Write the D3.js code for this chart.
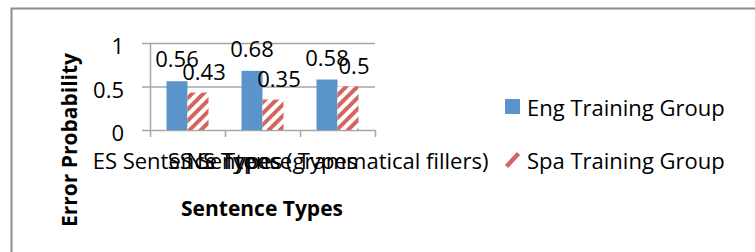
<!DOCTYPE html>
<html>
<head>
<meta charset="utf-8">
<script src="https://cdn.jsdelivr.net/npm/d3@7"></script>
<style>
  body { margin: 0; background: #fff; }
  svg { font-family: "Open Sans", Lato, sans-serif; }
</style>
</head>
<body>
<svg id="chart"></svg>
<script>
const categories = ["ES Sentence Types", "SS Sentence Types", "NS Types (grammatical fillers)"];
const seriesNames = ["Eng Training Group", "Spa Training Group"];
const engValues = [0.56, 0.68, 0.58];
const spaValues = [0.43, 0.35, 0.5];
const yTicks = [0, 0.5, 1];

const width = 755, height = 252;
const fs = 22;
const svg = d3.select("#chart").attr("width", width).attr("height", height);

// hatch pattern for the second series
const defs = svg.append("defs");
const pat = defs.append("pattern")
  .attr("id", "hatch")
  .attr("patternUnits", "userSpaceOnUse")
  .attr("width", 8).attr("height", 8)
  .attr("patternTransform", "rotate(45)");
pat.append("rect").attr("width", 8).attr("height", 8).attr("fill", "#fff");
pat.append("rect").attr("width", 4).attr("height", 8).attr("fill", "#d4665f");

// outer chart border (extends past the window)
svg.append("path")
  .attr("d", `M11.5,${height + 5}V8.5H${width + 5}`)
  .attr("fill", "none")
  .attr("stroke", "#8c8c8c")
  .attr("stroke-width", 2);

const plot = { left: 150, right: 375, top: 43, bottom: 130 };

const x = d3.scaleBand().domain(categories).range([plot.left, plot.right]);
const y = d3.scaleLinear().domain([0, 1]).range([plot.bottom, plot.top]);

const barW = 21;

// gridlines
svg.append("g")
  .selectAll("line")
  .data(yTicks)
  .join("line")
  .attr("x1", plot.left - 8)
  .attr("x2", plot.right)
  .attr("y1", d => y(d) + 0.5)
  .attr("y2", d => y(d) + 0.5)
  .attr("stroke", "#a6a6a6")
  .attr("stroke-width", 1.5);

// y axis line
svg.append("line")
  .attr("x1", plot.left + 0.5).attr("x2", plot.left + 0.5)
  .attr("y1", plot.top).attr("y2", plot.bottom)
  .attr("stroke", "#a6a6a6").attr("stroke-width", 1.5);

// x axis tick marks at category boundaries
const bounds = categories.map(c => x(c)).concat([plot.right]);
svg.append("g")
  .selectAll("line")
  .data(bounds)
  .join("line")
  .attr("x1", d => d + 0.5).attr("x2", d => d + 0.5)
  .attr("y1", plot.bottom).attr("y2", plot.bottom + 7)
  .attr("stroke", "#a6a6a6").attr("stroke-width", 1.5);

// y tick labels
svg.append("g")
  .selectAll("text")
  .data(yTicks)
  .join("text")
  .attr("x", plot.left - 26)
  .attr("y", d => y(d) + 11)
  .attr("text-anchor", "end")
  .attr("font-size", fs)
  .attr("fill", "#000")
  .text(d => d);

// bars
const center = c => x(c) + x.bandwidth() / 2;

svg.append("g")
  .selectAll("rect")
  .data(categories)
  .join("rect")
  .attr("x", c => center(c) - barW)
  .attr("y", (c, i) => y(engValues[i]))
  .attr("width", barW)
  .attr("height", (c, i) => y(0) - y(engValues[i]))
  .attr("fill", "#5b93cb");

svg.append("g")
  .selectAll("rect")
  .data(categories)
  .join("rect")
  .attr("x", c => center(c))
  .attr("y", (c, i) => y(spaValues[i]))
  .attr("width", barW)
  .attr("height", (c, i) => y(0) - y(spaValues[i]))
  .attr("fill", "url(#hatch)");

// data labels
svg.append("g")
  .selectAll("text")
  .data(categories)
  .join("text")
  .attr("x", c => center(c) - barW / 2)
  .attr("y", (c, i) => y(engValues[i]) - 14)
  .attr("text-anchor", "middle")
  .attr("font-size", fs)
  .text((c, i) => engValues[i]);

svg.append("g")
  .selectAll("text")
  .data(categories)
  .join("text")
  .attr("x", c => center(c) + barW / 2 + 6)
  .attr("y", (c, i) => y(spaValues[i]) - 13)
  .attr("text-anchor", "middle")
  .attr("font-size", fs)
  .text((c, i) => spaValues[i]);

// category labels (overlapping, as in the original)
svg.append("g")
  .selectAll("text")
  .data(categories)
  .join("text")
  .attr("x", c => center(c))
  .attr("y", 169)
  .attr("text-anchor", "middle")
  .attr("font-size", fs)
  .text(c => c);

// axis titles
svg.append("text")
  .attr("transform", "translate(77,140) rotate(-90)")
  .attr("text-anchor", "middle")
  .attr("font-size", 21)
  .attr("font-weight", "bold")
  .text("Error Probability");

svg.append("text")
  .attr("x", 262)
  .attr("y", 216)
  .attr("text-anchor", "middle")
  .attr("font-size", 21)
  .attr("font-weight", "bold")
  .text("Sentence Types");

// legend
const legend = svg.append("g")
  .selectAll("g")
  .data(seriesNames)
  .join("g")
  .attr("transform", (d, i) => `translate(505,${99 + i * 53})`);

legend.filter((d, i) => i === 0)
  .append("rect")
  .attr("width", 15).attr("height", 15)
  .attr("fill", "#5b93cb");

legend.filter((d, i) => i === 1)
  .append("line")
  .attr("x1", 1.5).attr("y1", 14.5)
  .attr("x2", 13.5).attr("y2", 1.5)
  .attr("stroke", "#d4665f")
  .attr("stroke-width", 4.5);

legend.append("text")
  .attr("x", 22)
  .attr("y", 17)
  .attr("font-size", fs)
  .text(d => d);
</script>
</body>
</html>
